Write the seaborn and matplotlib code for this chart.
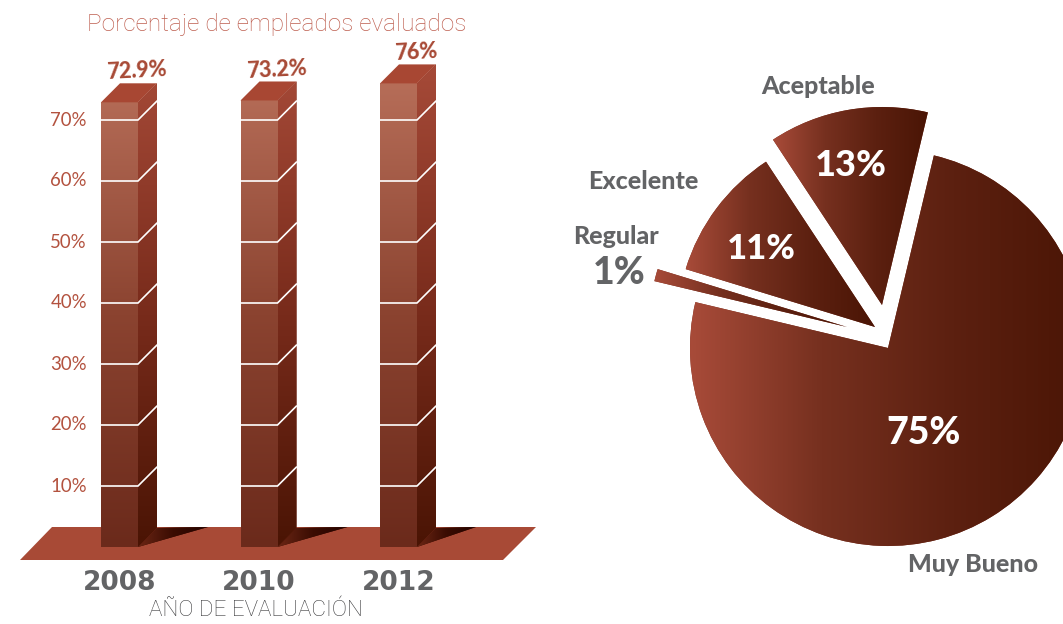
import numpy as np
import matplotlib
matplotlib.use("Agg")
import matplotlib.pyplot as plt
from matplotlib.patches import Polygon
import seaborn as sns

years = ["2008", "2010", "2012"]
percent = [72.9, 73.2, 76]
percent_labels = ["72.9%", "73.2%", "76%"]
y_ticks = [10, 20, 30, 40, 50, 60, 70]
y_tick_labels = ["10%", "20%", "30%", "40%", "50%", "60%", "70%"]
pie_names = ["Aceptable", "Excelente", "Regular", "Muy Bueno"]
pie_values = [13, 11, 1, 75]
pie_value_labels = ["13%", "11%", "1%", "75%"]

RED = "#A84A36"
GREY = "#636466"

sns.set_theme(style="white")
W, H = 1063, 624
fig = plt.figure(figsize=(W / 100, H / 100), dpi=100, facecolor="white")

front_cmap = sns.blend_palette(["#6B2A1B", "#8B4330", "#B66D58"], as_cmap=True)
side_cmap = sns.blend_palette(["#4A1404", "#7A2C1C", "#A64A38"], as_cmap=True)
shadow_cmap = sns.blend_palette(["#6B2614", "#3A0C02", "#240400"], as_cmap=True)
pie_cmap = sns.blend_palette(["#A84B39", "#76301F", "#5C2010", "#4A1505"], as_cmap=True)

# ---------- bars ----------
AX_W = 560
ax = fig.add_axes([0, 0, AX_W / W, 1])
sns.barplot(x=years, y=percent, width=37 / 139.5, color=RED, ax=ax,
            saturation=1, linewidth=0, zorder=3)
X0, XS, Y0, YS = 119.5, 139.5, 547.0, 6.1


def dx(px):
    return (px - X0) / XS


def dy(py):
    return (Y0 - py) / YS


xlim = (dx(0), dx(AX_W))
ylim = (dy(H), dy(0))
for s in ["top", "right"]:
    ax.spines[s].set_visible(False)
ax.spines["left"].set_position(("data", dx(87)))
ax.spines["bottom"].set_position(("data", dy(570)))
ax.spines["left"].set_visible(False)
ax.spines["bottom"].set_visible(False)

DEPTH_X, DEPTH_Y = 19 / XS, 19 / YS
half = 37 / 139.5 / 2
shadow_len = [70, 70, 59]

platform = Polygon([(dx(20), dy(560)), (dx(503), dy(560)), (dx(536), dy(527)), (dx(52), dy(527))],
                   closed=True, fc=RED, ec="none", zorder=1)
ax.add_patch(platform)
grad_v = np.linspace(0, 1, 256).reshape(-1, 1)
grad_h = np.linspace(0, 1, 256).reshape(1, -1)

for i, (bar, v) in enumerate(zip(ax.patches[:3], percent)):
    l, r = i - half, i + half
    im = ax.imshow(grad_v, cmap=front_cmap, origin="lower", aspect="auto",
                   extent=(l, r, 0, 76), vmin=0, vmax=1, zorder=4)
    im.set_clip_path(bar)
    side = Polygon([(r, 0), (r + DEPTH_X, DEPTH_Y), (r + DEPTH_X, v + DEPTH_Y), (r, v)],
                   closed=True, fc="#7A2C1C", ec="none", zorder=3)
    ax.add_patch(side)
    im2 = ax.imshow(grad_v, cmap=side_cmap, origin="lower", aspect="auto",
                    extent=(r, r + DEPTH_X, 0, 76 + DEPTH_Y), vmin=0, vmax=1, zorder=4)
    im2.set_clip_path(side)
    top = Polygon([(l, v), (r, v), (r + DEPTH_X, v + DEPTH_Y), (l + DEPTH_X, v + DEPTH_Y)],
                  closed=True, fc="#A84733", ec="none", zorder=5)
    ax.add_patch(top)
    sl = shadow_len[i] / XS
    shadow = Polygon([(r, 0), (r + DEPTH_X, DEPTH_Y), (r + sl, DEPTH_Y + 1 / YS)],
                     closed=True, fc="#3A0C02", ec="none", zorder=2)
    ax.add_patch(shadow)
    im3 = ax.imshow(grad_h, cmap=shadow_cmap, origin="lower", aspect="auto",
                    extent=(r, r + sl, 0, DEPTH_Y + 1 / YS), vmin=0, vmax=1, zorder=2)
    im3.set_clip_path(shadow)
    for t in y_ticks:
        ax.plot([l, r, r + DEPTH_X], [t, t, t + DEPTH_Y], color="white", lw=1.2,
                solid_joinstyle="miter", zorder=6)
    ax.text(i + 17.5 / XS, v + 31 / YS, percent_labels[i], rotation=3, ha="center", va="center",
            color=RED, fontsize=15.5, fontweight=900, family="Lato", zorder=7)

ax.set_xlim(xlim)
ax.set_ylim(ylim)
ax.set_yticks(y_ticks, y_tick_labels)
ax.set_xticks(range(3), years)
ax.tick_params(axis="y", length=0, pad=0, labelsize=13.4, labelcolor="#B3523F")
ax.tick_params(axis="x", length=0, pad=0, labelsize=19, labelcolor=GREY)
for t in ax.get_yticklabels():
    t.set_family("Lato")
    t.set_verticalalignment("center")
for t in ax.get_xticklabels():
    t.set_family("DejaVu Sans")
    t.set_fontweight("bold")
ax.set_xlabel("AÑO DE EVALUACIÓN", fontsize=16.2, color="#3C3C3E", family="Roboto", fontweight="light")
ax.xaxis.set_label_coords(255.5 / AX_W, (H - 611) / H)
ax.xaxis.label.set_verticalalignment("center")
ax.set_title("Porcentaje de empleados evaluados", x=277 / AX_W, y=(H - 24) / H, va="center",
             fontsize=17.6, color="#BE5F50", family="Roboto", fontweight="light", pad=0)
ax.patch.set_alpha(0)

# ---------- pie ----------
R = 198.0
CX, CY = 888.0, 348.0
PL, PR, PT, PB = 560, 1063, 60, 600
axp = fig.add_axes([PL / W, 1 - PB / H, (PR - PL) / W, (PB - PT) / H])
wedges, label_texts = axp.pie(pie_values, labels=pie_names, startangle=76.6, counterclock=True,
                              wedgeprops=dict(linewidth=0, edgecolor="none"),
                              textprops=dict(color=GREY, fontsize=18, fontweight=900,
                                             family="Lato"))


def pdata(px, py):
    return (px - CX) / R, (CY - py) / R


apexes = [(882, 305), (875, 327), (847, 327), (888, 348)]
name_pos = [(818, 86), (643, 181), (616, 236), (973, 565)]
value_pos = [(851, 165), (761, 249), (619, 273), (924, 433)]
value_size = [26, 25, 27, 27]
value_color = ["white", "white", GREY, "white"]

for i, w in enumerate(wedges):
    w.set_center(pdata(*apexes[i]))
    bb = w.get_path().get_extents(w.get_patch_transform())
    w.set_facecolor("#7C3020")
    im = axp.imshow(grad_h, cmap=pie_cmap, aspect="auto", origin="lower",
                    extent=(bb.x0, bb.x1, bb.y0, bb.y1), vmin=0, vmax=1, zorder=2)
    im.set_clip_path(w)
    t = label_texts[i]
    t.set_position(pdata(*name_pos[i]))
    t.set_ha("center")
    t.set_va("center")
    px, py = pdata(*value_pos[i])
    axp.text(px, py, pie_value_labels[i], ha="center", va="center", color=value_color[i],
             fontsize=value_size[i], fontweight=900, family="Lato", zorder=5)
axp.set_xlim((PL - CX) / R, (PR - CX) / R)
axp.set_ylim((CY - PB) / R, (CY - PT) / R)
axp.set_aspect("equal")
axp.axis("off")

fig.savefig("out.png", dpi=100, facecolor="white")
